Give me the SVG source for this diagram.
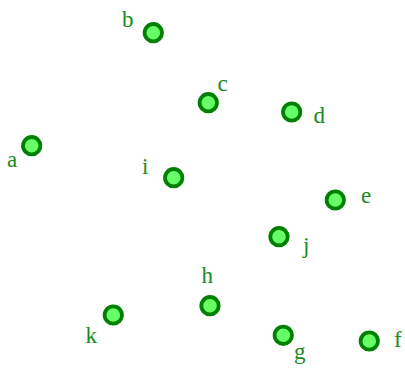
<svg xmlns="http://www.w3.org/2000/svg" width="405" height="370" viewBox="0 0 405 370">
<style>
.n circle{fill:#66ff66;stroke:#008000;stroke-width:3.8}
.n text{fill:#1a8a1a;font-family:"Liberation Serif",serif;font-size:23px}
</style>
<rect width="405" height="370" fill="#fff"/>
<g id="connectors"></g>
<g id="a" class="n"><circle cx="31.7" cy="145.7" r="8.7"/><text x="7" y="167">a</text></g>
<g id="b" class="n"><circle cx="153.3" cy="32.7" r="8.7"/><text x="122" y="27.3">b</text></g>
<g id="c" class="n"><circle cx="208.3" cy="102.7" r="8.7"/><text x="217.5" y="90.7">c</text></g>
<g id="d" class="n"><circle cx="291.7" cy="112" r="8.7"/><text x="313.5" y="123.3">d</text></g>
<g id="e" class="n"><circle cx="335.3" cy="200" r="8.7"/><text x="361" y="202.7">e</text></g>
<g id="f" class="n"><circle cx="369.3" cy="341" r="8.7"/><text x="394" y="347.3">f</text></g>
<g id="g" class="n"><circle cx="283.3" cy="335.3" r="8.7"/><text x="294" y="359">g</text></g>
<g id="h" class="n"><circle cx="210" cy="305.7" r="8.7"/><text x="201.5" y="283.3">h</text></g>
<g id="i" class="n"><circle cx="173.7" cy="177.7" r="8.7"/><text x="142" y="174">i</text></g>
<g id="j" class="n"><circle cx="279" cy="236.7" r="8.7"/><text x="303" y="253">j</text></g>
<g id="k" class="n"><circle cx="113.3" cy="315" r="8.7"/><text x="85.5" y="343.3">k</text></g>
</svg>
